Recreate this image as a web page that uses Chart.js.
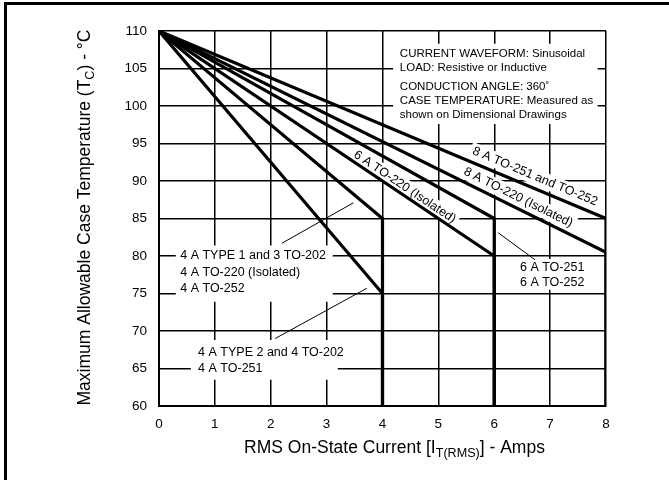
<!DOCTYPE html>
<html>
<head>
<meta charset="utf-8">
<title>Case temperature derating</title>
<script src="https://cdn.jsdelivr.net/npm/chart.js@4.4.1/dist/chart.umd.min.js"></script>
<style>
  html, body { margin: 0; padding: 0; background: #fff; }
  canvas { display: block; }
</style>
</head>
<body>
<canvas id="derating" width="669" height="480"></canvas>
<script>
// axis ticks
const currentTicks = [0, 1, 2, 3, 4, 5, 6, 7, 8];          // A
const tempTicks = [60, 65, 70, 75, 80, 85, 90, 95, 100, 105, 110]; // °C

// each curve: 0 A / 110 °C -> rated current, then straight down to 60 °C
const curveNames = [
    '4 A TYPE 2 and 4 TO-202, 4 A TO-251',
    '4 A TYPE 1 and 3 TO-202, 4 A TO-220 (Isolated), 4 A TO-252',
    '6 A TO-220 (Isolated)',
    '6 A TO-251, 6 A TO-252',
    '8 A TO-220 (Isolated)',
    '8 A TO-251 and TO-252'
];
const startCurrent = [0, 0, 0, 0, 0, 0];
const startTemp = [110, 110, 110, 110, 110, 110];
const ratedCurrent = [4, 4, 6, 6, 8, 8];
const tempAtRated = [75, 85, 80, 85, 80.5, 85];
const floorTemp = [60, 60, 60, 60, 60, 60];

const FONT = '"Liberation Sans", Arial, Helvetica, sans-serif';

// notes with a white patch behind them (patch and rows in data units)
const boxedNotes = [
    {
        box: [4.19, 108.3, 7.85, 97.6], x: 4.31, size: 11.5,
        rows: [
            ['CURRENT WAVEFORM: Sinusoidal', 107.0],
            ['LOAD: Resistive or Inductive', 105.1],
            ['CONDUCTION ANGLE: 360˚', 102.6],
            ['CASE TEMPERATURE: Measured as', 100.7],
            ['shown on Dimensional Drawings', 98.8]
        ]
    },
    {
        box: [0.30, 81.4, 3.11, 73.9], x: 0.38, size: 12.5,
        rows: [
            ['4 A TYPE 1 and 3 TO-202', 80.0],
            ['4 A TO-220 (Isolated)', 77.8],
            ['4 A TO-252', 75.7]
        ]
    },
    {
        box: [0.57, 68.8, 3.20, 63.5], x: 0.70, size: 12.5,
        rows: [
            ['4 A TYPE 2 and 4 TO-202', 67.1],
            ['4 A TO-251', 65.0]
        ]
    },
    {
        box: [6.41, 79.6, 7.45, 75.5], x: 6.46, size: 12.5,
        rows: [
            ['6 A TO-251', 78.4],
            ['6 A TO-252', 76.4]
        ]
    }
];

// labels laid along a curve (centre in data units, angle from the curve)
const slopedNotes = [
    { text: '8 A TO-251 and TO-252', x: 6.73, y: 90.6, curve: 5 },
    { text: '8 A TO-220 (Isolated)', x: 6.43, y: 87.8, curve: 4 },
    { text: '6 A TO-220 (Isolated)', x: 4.40, y: 89.2, curve: 2 }
];

// thin pointer lines from the notes to the curves
const leaders = [
    [2.20, 81.7, 3.48, 87.1],
    [2.08, 69.0, 3.72, 75.7],
    [6.07, 83.1, 6.73, 79.5]
];

function richWidth(ctx, parts, size) {
    let w = 0;
    parts.forEach(([t, sub]) => {
        ctx.font = (sub ? size * 0.72 : size) + 'px ' + FONT;
        w += ctx.measureText(t).width;
    });
    return w;
}

// draws text with subscripts, centred on 0,0
function drawRich(ctx, parts, size) {
    let x = -richWidth(ctx, parts, size) / 2;
    ctx.textAlign = 'left';
    ctx.textBaseline = 'middle';
    parts.forEach(([t, sub]) => {
        ctx.font = (sub ? size * 0.72 : size) + 'px ' + FONT;
        ctx.fillText(t, x, sub ? size * 0.32 : 0);
        x += ctx.measureText(t).width;
    });
}

const notesPlugin = {
    id: 'notes',
    beforeDatasetsDraw(chart) {
        const { ctx } = chart;
        const xs = chart.scales.x, ys = chart.scales.y;
        const px = v => xs.getPixelForValue(v);
        const py = v => ys.getPixelForValue(v);

        ctx.save();
        // white patches first so the grid is broken behind the notes
        ctx.fillStyle = '#fff';
        boxedNotes.forEach(n => {
            ctx.fillRect(px(n.box[0]), py(n.box[1]), px(n.box[2]) - px(n.box[0]), py(n.box[3]) - py(n.box[1]));
        });
        const sloped = slopedNotes.map(n => {
            const i = n.curve;
            const ang = Math.atan2(py(tempAtRated[i]) - py(startTemp[i]), px(ratedCurrent[i]) - px(startCurrent[i]));
            return { ...n, ang, cx: px(n.x), cy: py(n.y) };
        });
        ctx.font = '12.5px ' + FONT;
        sloped.forEach(n => {
            const w = ctx.measureText(n.text).width;
            ctx.save();
            ctx.translate(n.cx, n.cy);
            ctx.rotate(n.ang);
            ctx.fillRect(-w / 2 - 3, -8, w + 6, 16);
            ctx.restore();
        });

        ctx.fillStyle = '#000';
        ctx.textBaseline = 'middle';
        ctx.textAlign = 'left';
        boxedNotes.forEach(n => {
            ctx.font = n.size + 'px ' + FONT;
            n.rows.forEach(([t, v]) => ctx.fillText(t, px(n.x), py(v)));
        });
        ctx.textAlign = 'center';
        ctx.font = '12.5px ' + FONT;
        sloped.forEach(n => {
            ctx.save();
            ctx.translate(n.cx, n.cy);
            ctx.rotate(n.ang);
            ctx.fillText(n.text, 0, 0);
            ctx.restore();
        });

        ctx.strokeStyle = '#000';
        ctx.lineWidth = 1;
        leaders.forEach(([x1, y1, x2, y2]) => {
            ctx.beginPath();
            ctx.moveTo(px(x1), py(y1));
            ctx.lineTo(px(x2), py(y2));
            ctx.stroke();
        });
        ctx.restore();
    },
    afterDraw(chart) {
        const { ctx, chartArea } = chart;
        ctx.save();
        ctx.fillStyle = '#000';
        // axis titles (drawn here because of the subscripts)
        ctx.save();
        ctx.translate((chartArea.left + chartArea.right) / 2 + 12, 448);
        drawRich(ctx, [['RMS On-State Current [I', false], ['T(RMS)', true], ['] - Amps', false]], 17.5);
        ctx.restore();
        ctx.save();
        ctx.translate(85, (chartArea.top + chartArea.bottom) / 2 - 1);
        ctx.rotate(-Math.PI / 2);
        drawRich(ctx, [['Maximum Allowable Case Temperature (T', false], ['C', true], [') - °C', false]], 17.5);
        ctx.restore();
        // frame, only the top and left edges are in the picture
        ctx.fillRect(4, 2, 3, 478);
        ctx.fillRect(4, 2, 665, 3);
        ctx.restore();
    }
};

const datasets = curveNames.map((name, i) => ({
    label: name,
    data: [
        { x: startCurrent[i], y: startTemp[i] },
        { x: ratedCurrent[i], y: tempAtRated[i] },
        { x: ratedCurrent[i], y: floorTemp[i] }
    ],
    borderColor: '#000',
    borderWidth: 3.2,
    borderJoinStyle: 'miter',
    pointRadius: 0,
    tension: 0,
    fill: false
}));

new Chart(document.getElementById('derating'), {
    type: 'line',
    data: { datasets },
    options: {
        responsive: false,
        animation: false,
        layout: { padding: { left: 0, top: 31, right: 63, bottom: 0 } },
        plugins: {
            legend: { display: false },
            tooltip: { enabled: false }
        },
        scales: {
            x: {
                type: 'linear',
                min: currentTicks[0],
                max: currentTicks[currentTicks.length - 1],
                afterBuildTicks: s => { s.ticks = currentTicks.map(v => ({ value: v })); },
                afterFit: s => { s.height = 74; },
                grid: { color: '#000', lineWidth: 1.5, drawTicks: false },
                border: { color: '#000', width: 2 },
                ticks: { color: '#000', padding: 10, font: { family: FONT, size: 13.5 } }
            },
            y: {
                type: 'linear',
                min: tempTicks[0],
                max: tempTicks[tempTicks.length - 1],
                afterBuildTicks: s => { s.ticks = tempTicks.map(v => ({ value: v })); },
                afterFit: s => { s.width = 159; },
                grid: { color: '#000', lineWidth: 1.5, drawTicks: false },
                border: { color: '#000', width: 2 },
                ticks: { color: '#000', padding: 12, font: { family: FONT, size: 13.5 } }
            }
        }
    },
    plugins: [notesPlugin]
});
</script>
</body>
</html>
